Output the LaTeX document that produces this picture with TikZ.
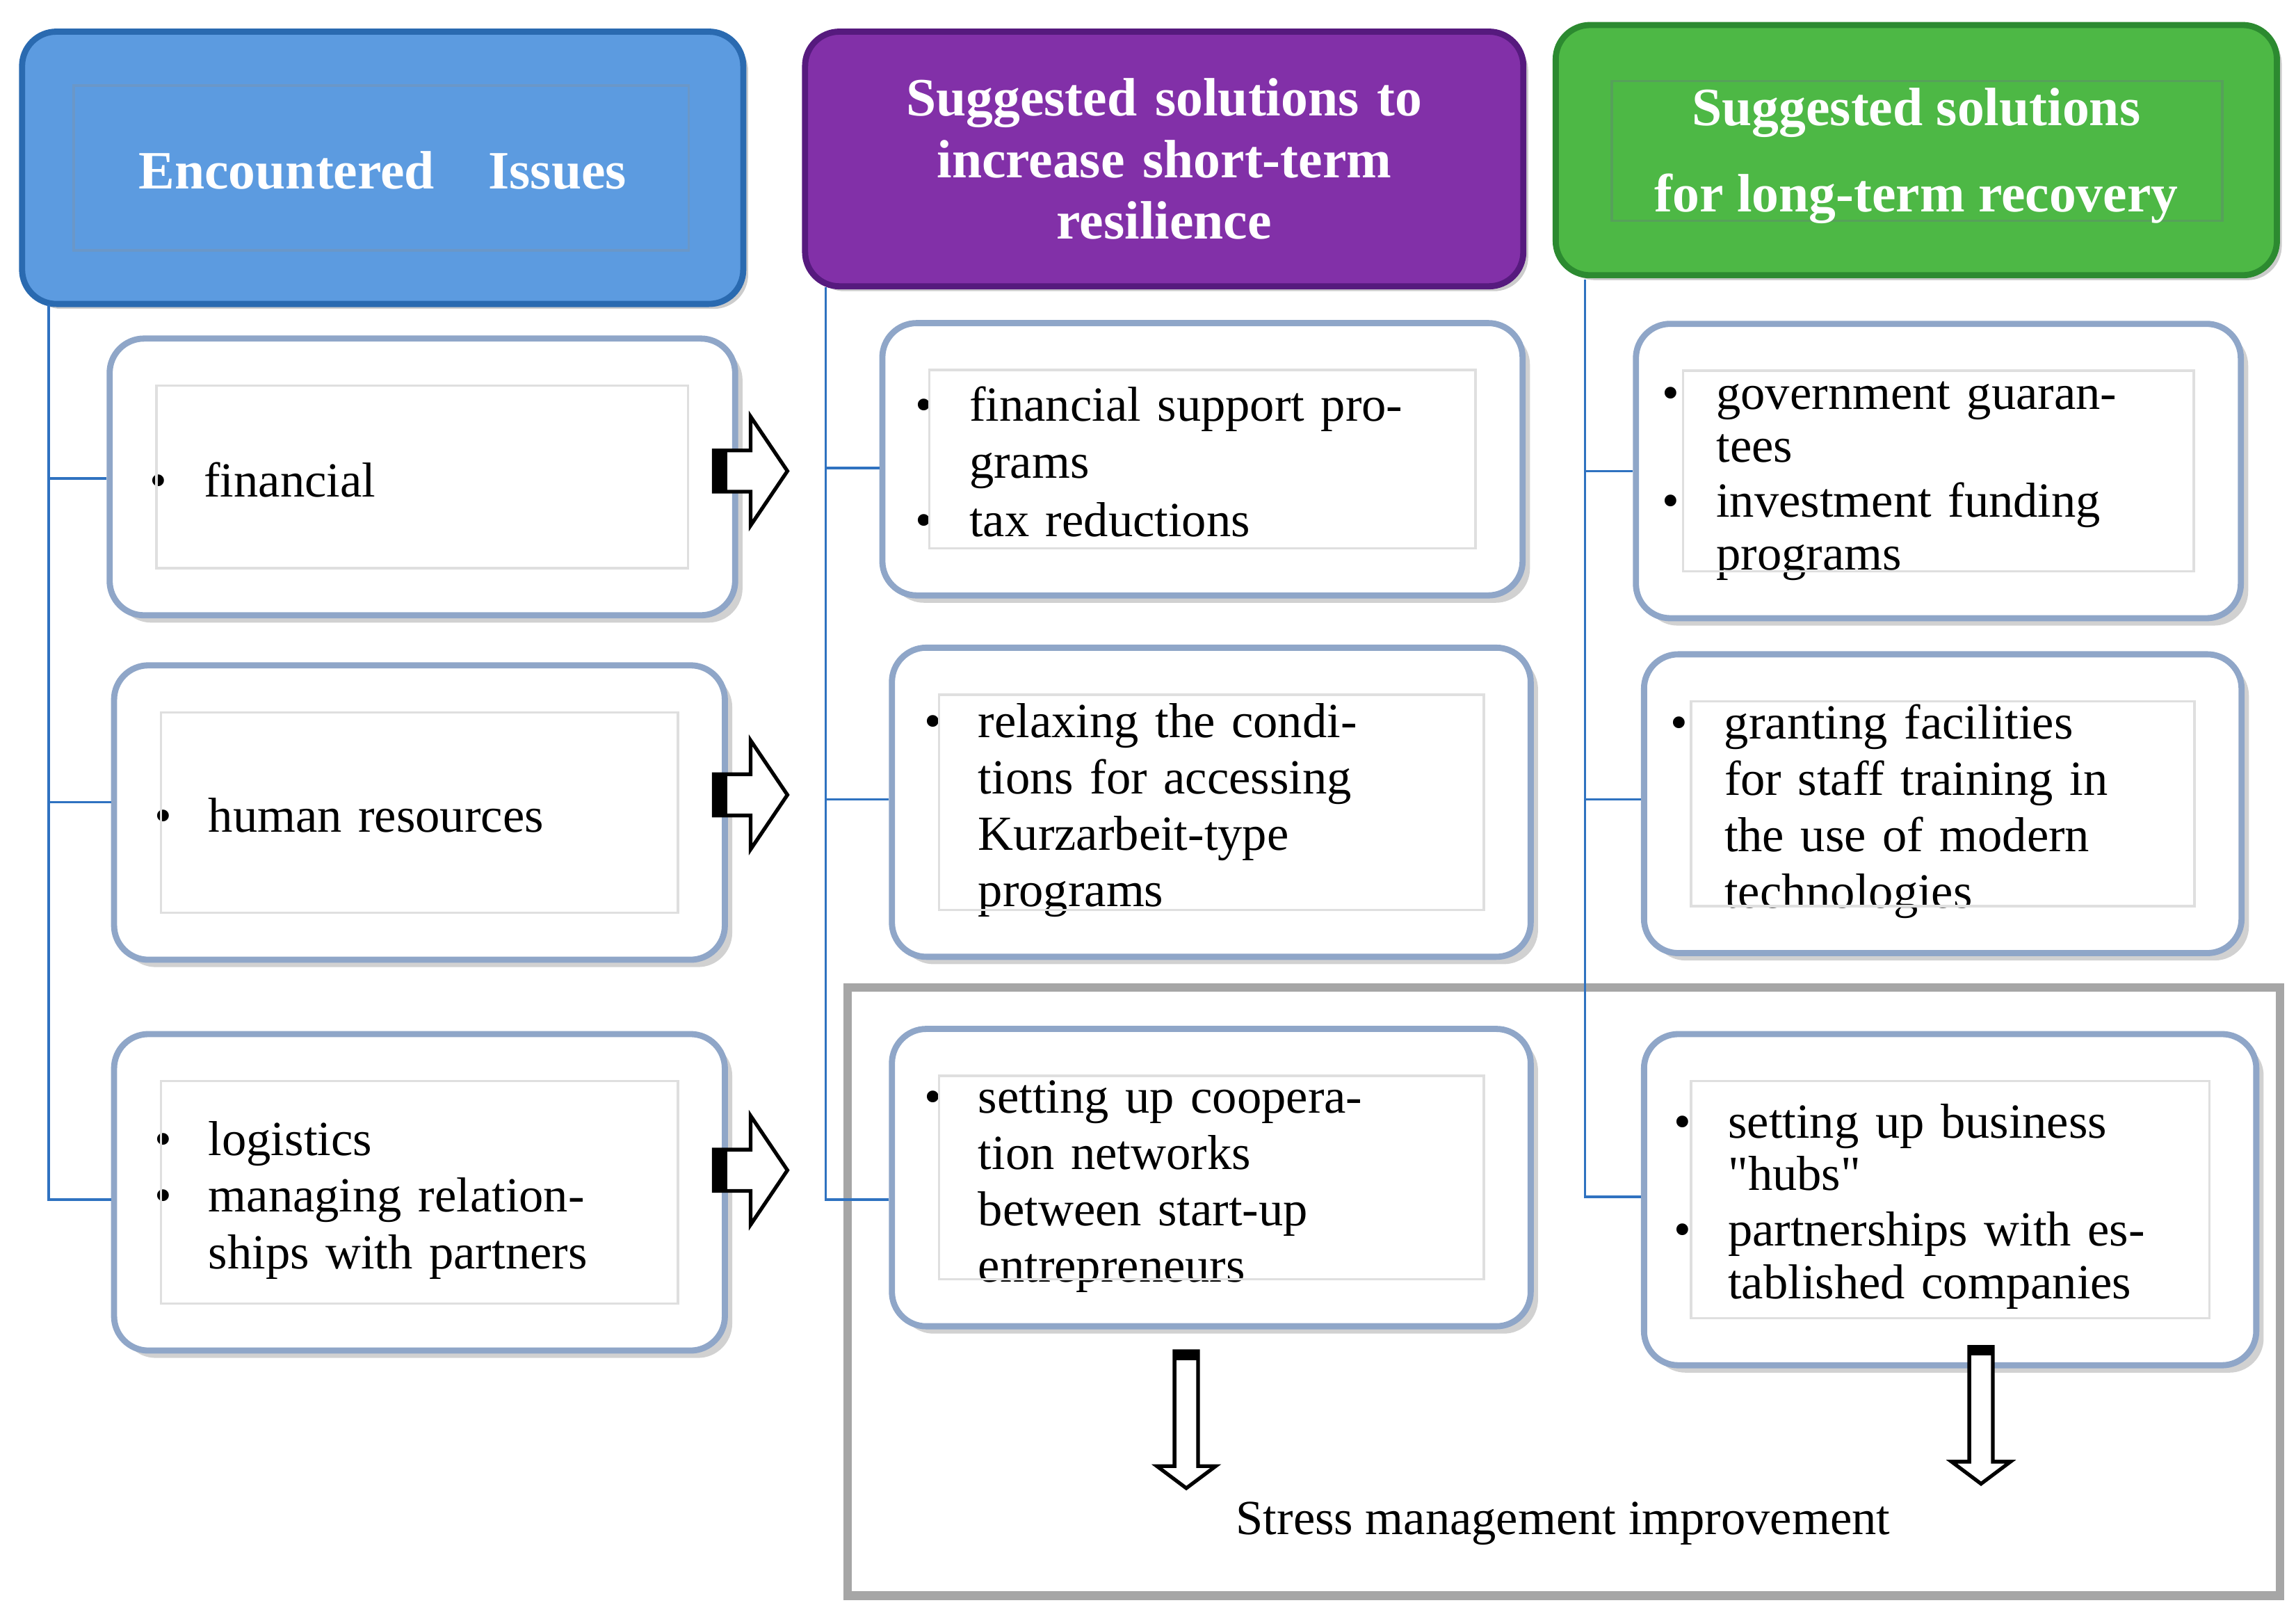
\documentclass[tikz,border=0pt]{standalone}
\usepackage{fontspec}
\setmainfont{Liberation Serif}
\usetikzlibrary{shadows}
\definecolor{hblue}{HTML}{5C9BE0}\definecolor{hblueD}{HTML}{2A6AB0}
\definecolor{hpur}{HTML}{8230A8}\definecolor{hpurD}{HTML}{561A7E}
\definecolor{hgrn}{HTML}{4DB845}\definecolor{hgrnD}{HTML}{2C8A30}
\definecolor{bord}{HTML}{8FA6C8}\definecolor{conn}{HTML}{2F72C0}
\newcommand\itm[1]{\par\noindent\makebox[1.1em][l]{\textbullet}\begin{tabular}[t]{@{}l@{}}#1\end{tabular}\par}
\begin{document}
\begin{tikzpicture}[x=0.6pt,y=-0.6pt,
 hdr/.style={rounded corners=14pt,line width=2.5pt,text=white,font=\bfseries\fontsize{22}{25}\selectfont,align=center,drop shadow={shadow xshift=2pt,shadow yshift=-2pt,opacity=.4}},
 box/.style={rounded corners=14pt,draw=bord,line width=2.5pt,fill=white,align=left,
   font=\fontsize{20}{23}\selectfont,drop shadow={shadow xshift=3pt,shadow yshift=-3pt,fill=gray!60,opacity=.6}},
 conn/.style={draw=conn,line width=1pt},
 arr/.style={draw=black,fill=white,line width=1.5pt}]
\useasboundingbox (0,0) rectangle (1560,1095);
% gray frame
\draw[line width=3.5pt,gray!70] (576,671) rectangle (1549,1084);
% headers
\node[hdr,fill=hblue,draw=hblueD,minimum width=490*0.6pt,minimum height=185*0.6pt] (h1) at (260,114) {};
\draw[hblueD!70,line width=1pt] (50,58) rectangle (468,170);
\node[text=white,font=\bfseries\fontsize{22}{25}\selectfont] at (260,116) {Encountered\quad Issues};
\node[hdr,fill=hpur,draw=hpurD,minimum width=488*0.6pt,minimum height=173*0.6pt,text width=440*0.6pt] (h2) at (791,108) {Suggested solutions to\\increase short-term\\resilience};
\node[hdr,fill=hgrn,draw=hgrnD,minimum width=490*0.6pt,minimum height=170*0.6pt] (h3) at (1302,102) {};
\draw[hgrnD!80,line width=1pt] (1095,55) rectangle (1510,150);
\node[text=white,font=\bfseries\fontsize{22}{25}\selectfont,align=center] at (1302,106) {Suggested solutions\\[10pt]for long-term recovery};
% boxes
\node[box,minimum width=425*0.6pt,minimum height=188*0.6pt,text width=370*0.6pt] (a1) at (287,324) {\itm{financial}};
\node[box,minimum width=415*0.6pt,minimum height=200*0.6pt,text width=360*0.6pt] (a2) at (285,552) {\itm{human resources}};
\node[box,minimum width=415*0.6pt,minimum height=215*0.6pt,text width=360*0.6pt] (a3) at (285,810) {\itm{logistics}\itm{managing relation-\\ships with partners}};
\node[box,minimum width=435*0.6pt,minimum height=185*0.6pt,text width=390*0.6pt] (b1) at (817,312) {\itm{financial support pro-\\grams}\itm{tax reductions}};
\node[box,minimum width=434*0.6pt,minimum height=210*0.6pt,text width=390*0.6pt] (b2) at (823,545) {\itm{\makebox[208pt][s]{relaxing the condi-}\\tions for accessing\\Kurzarbeit-type\\programs}};
\node[box,minimum width=434*0.6pt,minimum height=202*0.6pt,text width=390*0.6pt] (b3) at (823,800) {\itm{setting up coopera-\\tion networks\\between start-up\\entrepreneurs}};
\node[box,minimum width=411*0.6pt,minimum height=200*0.6pt,text width=375*0.6pt,font=\fontsize{20}{21.5}\selectfont] (c1) at (1317,320) {\itm{government guaran-\\tees}\itm{investment funding\\programs}};
\node[box,minimum width=406*0.6pt,minimum height=203*0.6pt,text width=370*0.6pt] (c2) at (1320,546) {\itm{granting facilities\\for staff training in\\the use of modern\\technologies}};
\node[box,minimum width=416*0.6pt,minimum height=225*0.6pt,text width=375*0.6pt,font=\fontsize{20}{21.5}\selectfont] (c3) at (1325,815) {\itm{\makebox[200pt][s]{setting up business}\\\textquotedbl hubs\textquotedbl}\itm{partnerships with es-\\tablished companies}\vspace{30pt}};
% inner frames
\foreach \n in {a1,a2,a3,b1,b2,b3,c1,c2,c3}{
 \draw[gray!25,line width=1pt] ([shift={(34,34)}]\n.north west) rectangle ([shift={(-34,-34)}]\n.south east);}
% connectors
\coordinate (p1) at (33,207); \coordinate (q1) at (33,815);
\draw[conn] (p1) -- (q1) -- (a3.west|-q1);
\draw[conn] (33,325) -- (a1.west|-0,325); \draw[conn] (33,545) -- (a2.west|-0,545);
\coordinate (p2) at (561,195); \coordinate (q2) at (561,815);
\draw[conn] (p2) -- (q2) -- (b3.west|-q2);
\draw[conn] (561,318) -- (b1.west|-0,318); \draw[conn] (561,543) -- (b2.west|-0,543);
\coordinate (p3) at (1077,190); \coordinate (q3) at (1077,813);
\draw[conn] (p3) -- (q3) -- (c3.west|-q3);
\draw[conn] (1077,320) -- (c1.west|-0,320); \draw[conn] (1077,543) -- (c2.west|-0,543);
% right arrows
\foreach \y in {320,540,795}{
 \draw[arr] (485,\y-14) -- (510,\y-14) -- (510,\y-37) -- (535,\y) -- (510,\y+37) -- (510,\y+14) -- (485,\y+14) -- cycle;
 \fill (485,\y-14) rectangle (494,\y+14);}
% down arrows
\foreach \x/\t in {806/918,1346/915}{
 \draw[arr] (\x-8,\t) -- (\x-8,\t+78) -- (\x-20,\t+78) -- (\x,\t+93) -- (\x+20,\t+78) -- (\x+8,\t+78) -- (\x+8,\t) -- cycle;
 \fill (\x-8,\t) rectangle (\x+8,\t+6);}
\node[font=\fontsize{20}{23}\selectfont] (s) at (1062,1035) {Stress management improvement};
\end{tikzpicture}
\end{document}
